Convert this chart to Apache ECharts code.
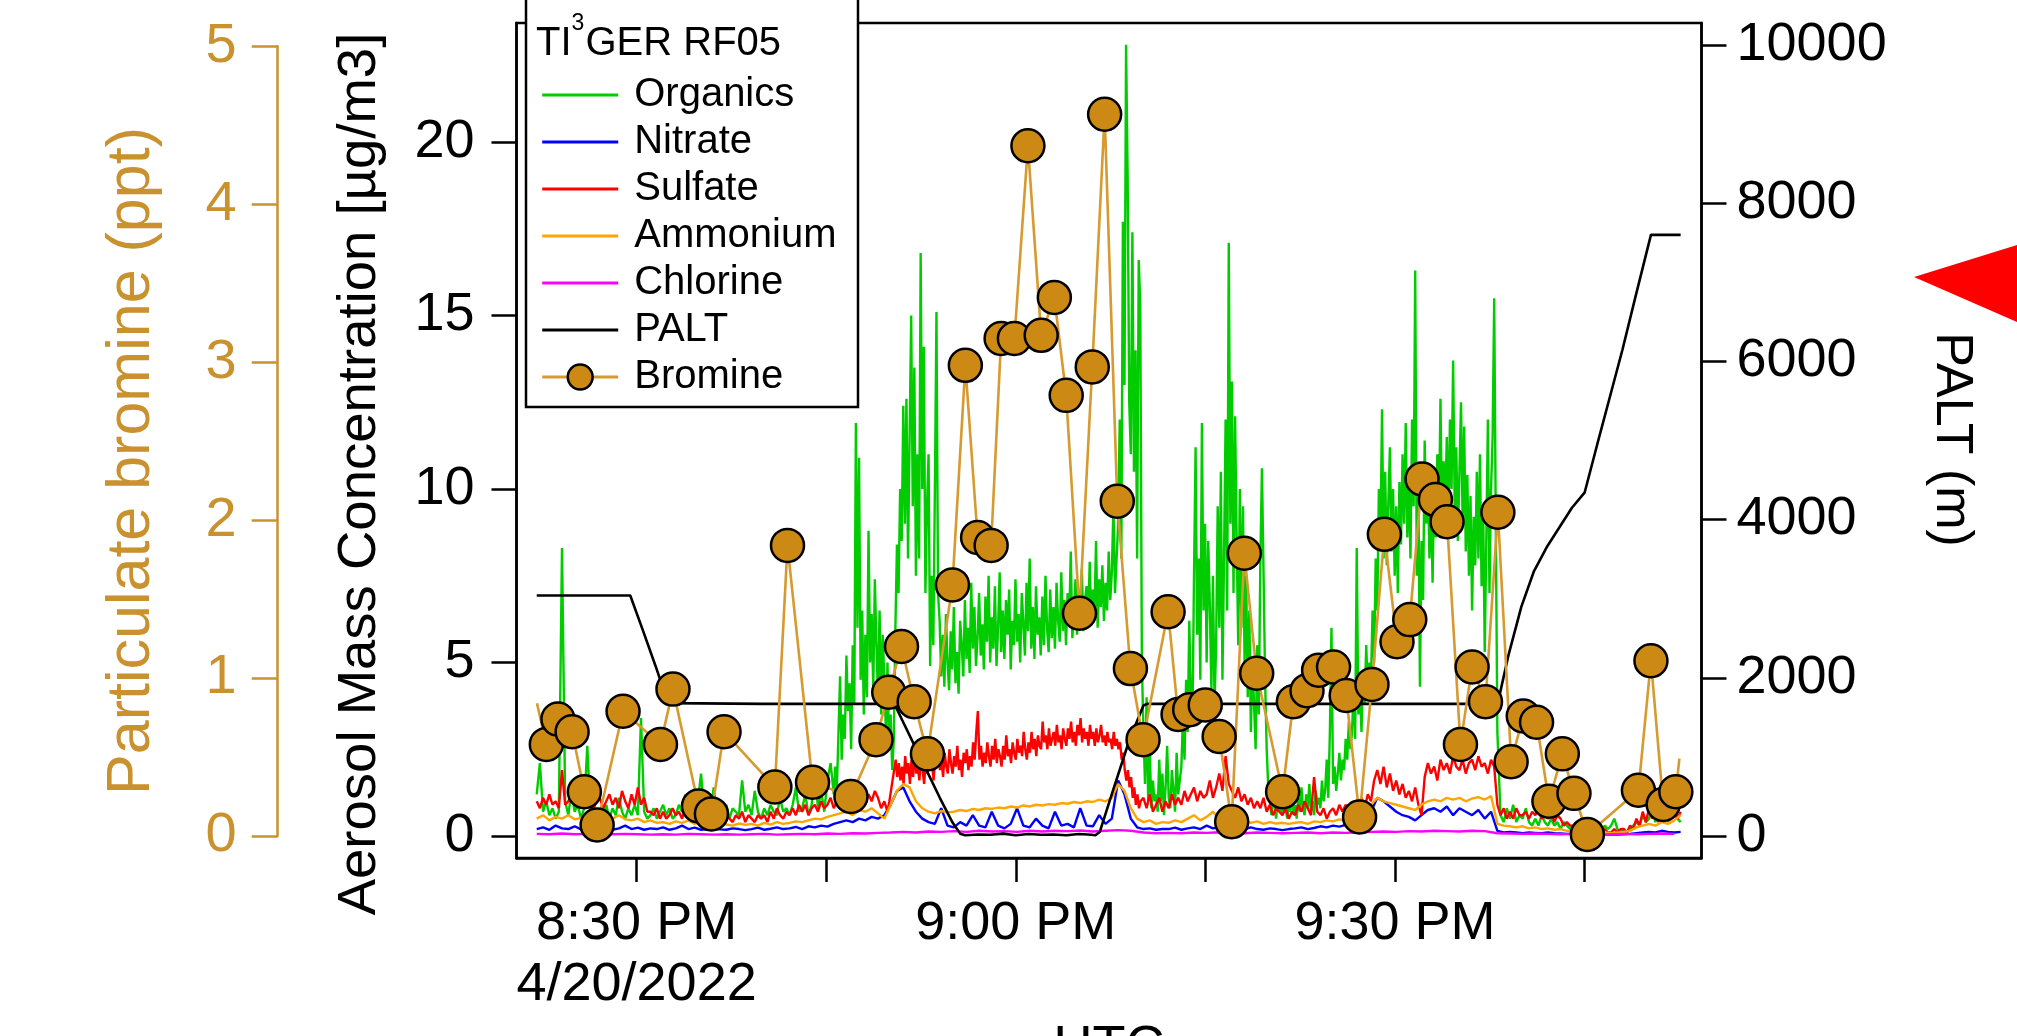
<!DOCTYPE html>
<html>
<head>
<meta charset="utf-8">
<script src="https://cdn.jsdelivr.net/npm/echarts@6/dist/echarts.min.js"></script>
<style>
html,body{margin:0;padding:0;background:#fff;}
#main{width:2017px;height:1036px;}
</style>
</head>
<body>
<div id="main"></div>
<script>
// ---------- DATA (time axis = minutes after 20:00 UTC, 4/20/2022) ----------
// Organics: three sampling segments [start time, step (min)]
const organicsA_t0 = 22.1,  organicsA_dt = 0.25;
const organicsA = [
1.2,2.1,0.7,1.0, 0.6,0.8,0.5,0.7, 8.3,1.0,0.6,1.3, 0.7,0.9,0.5,0.8, 2.6,0.7,0.9,0.5,
0.7,0.6,0.9,0.5, 0.8,0.6,1.1,0.7, 0.5,0.8,0.6,0.9, 0.6,3.4,0.7,0.5, 0.6,0.8,0.5,0.7,
0.9,0.6,0.8,0.5, 0.6,0.9,0.7,1.2, 0.6,0.8,0.5,1.0, 1.8,0.7,0.9,0.6, 1.4,0.7,0.8,0.6,
0.9,0.5,0.8,0.7, 0.6,1.6,0.7,0.9, 0.6,1.3,0.7,0.5, 0.8,0.6,0.9,0.7, 0.6,1.1,0.7,0.8,
0.6,0.9,1.4,0.7, 0.8,1.2,0.6,0.9, 1.9,0.8,1.3,0.7, 1.6,2.1
];
const organicsB_t0 = 45.6,  organicsB_dt = 0.125;
const organicsB = [
1.2,2.0,1.4,3.0,4.6,2.2,3.5,2.8, 5.2,3.6,4.4,2.5,5.5,3.8,11.9,6.0,
10.9,4.5,6.5,3.5,5.8,4.0,8.8,5.0, 6.4,4.2,7.4,5.5,4.0,6.5,3.5,5.8,
4.5,3.0,5.0,2.5,3.5,1.9,2.8,6.0,
8.4,7.0,10.0,8.5,12.4,9.0,12.6,8.0, 11.5,15.0,9.5,13.5,7.5,11.0,8.0,16.8,
10.0,14.1,7.0,9.5,11.0,4.9,7.5,5.5, 10.0,15.1,7.0,6.2,
4.6,5.8,4.3,6.4,5.0,4.2,5.9,4.8, 6.6,4.4,5.3,4.1,6.2,5.5,4.6,6.8,
5.1,6.0,4.7,7.3,5.4,6.6,4.9,5.7, 7.0,5.2,6.1,4.8,6.9,5.6,7.5,5.0,
6.3,5.4,7.2,4.9,6.0,7.6,5.3,6.5, 5.1,6.8,5.8,7.1,4.8,6.2,5.5,7.4,
5.6,6.4,5.0,7.0,6.1,5.2,7.3,5.9, 8.0,5.4,6.6,5.1,7.2,5.8,6.3,5.2,
6.9,5.5,7.5,6.0,5.3,7.1,5.7,6.6, 5.4,7.3,6.2,5.6,7.6,5.9,6.8,5.5,
7.0,6.1,8.2,5.7,6.5,7.4,5.8,6.9, 6.0,7.7,5.9,6.8,7.2,6.3,7.9,6.1,
7.1,6.4,8.5,6.0,7.4,6.6,7.8,6.2, 7.3,6.5,8.2,6.8,7.6,9.5,7.0,8.0,
9.0,12.0,8.0,17.7,13.0,22.8,19.0,12.5, 11.0,17.4,10.5,14.0,8.0,16.6,15.3,5.0,
3.0,1.5,4.0,1.0,2.5,0.8,1.6,1.0,
1.2,0.7,2.2,1.0,1.8,0.6,1.4,2.6, 1.1,0.8,1.9,1.3,0.7,2.4,1.2,1.6,
2.0,3.4,2.2,4.5,3.0,6.2,4.0,3.2, 7.5,11.2,5.8,8.0,4.5,11.9,6.5,9.0,
5.0,8.5,6.7,4.2,7.5,3.8,5.5,9.5, 6.0,10.5,4.5,8.0,12.0,6.5,17.1,9.0,
13.1,7.0,12.1,8.5,5.5,10.0,6.0,9.5, 5.0,7.5,4.0,6.5,3.0,5.0,3.8,2.5,
5.5,3.5,8.0,10.6,7.6,4.5,2.5,1.4,
1.0,0.6,1.3,0.8,0.5,1.1,0.7,0.9, 0.6,1.2,0.8,0.5,1.0,0.7,1.4,0.6,
0.9,0.5,1.1,0.7,1.4,0.8,0.6,1.2, 0.8,1.5,0.7,1.0,0.6,1.3,0.9,1.1,
0.8,1.6,1.0,1.3,2.2,1.1,3.0,6.0, 1.5,2.0,1.3,1.8,2.4,1.6,2.2,1.9,
2.8,2.2,3.3,2.5,3.0,4.2,2.8,8.3, 3.5,4.3,3.0,4.8,3.8,5.5,4.2,5.0,
4.4,6.5,5.0,8.0,6.5,10.0,8.5,12.3, 8.0,10.5,7.8,9.6,11.2,8.2,10.0,7.5,
9.5,7.0,10.2,8.4,11.0,9.0,11.9,8.6, 10.3,8.0,12.0,9.5,16.3,7.5,10.0,4.3,
8.5,6.8,11.4,9.0,10.5,8.0,9.8,7.3, 10.2,8.6,11.0,9.2,12.6,8.8,10.8,9.5,
11.5,9.0,12.0,10.0,13.7,9.4,11.2,8.5, 10.5,12.5,9.0,11.8,8.2,10.4,7.5,9.8,
6.5,9.2,7.8,10.5,8.0,11.0,7.2,9.5, 5.3,8.5,12.0,7.0,10.0,11.5,15.5,9.0,
3.0
];
const organicsC_t0 = 98.35, organicsC_dt = 0.25;
const organicsC = [
0.6,0.4,0.8, 0.5,0.9,0.4,0.6, 0.5,0.8,0.4,0.3, 0.5,0.3,0.6,0.4, 0.3,0.5,0.3,0.4,
0.2,0.4,0.3,0.2, 0.3,0.2,0.4,0.2, 0.2,0.3,0.2,0.1, 0.2,0.1,0.3,0.2, 0.3,0.5,0.2,0.1,
0.2,0.1,0.2,0.3, 0.4,0.3,0.6,0.4, 0.5,0.8,0.4,0.6, 0.5,0.7,0.4,0.9, 0.6,0.5,0.4
];

// Sulfate: three sampling segments
const sulfateA_t0 = 22.1, sulfateA_dt = 0.25;
const sulfateA = [
1.0,0.8,1.1,0.9, 1.2,0.9,1.0,0.8, 1.9,0.9,1.0,1.2, 0.9,1.1,0.8,1.0, 0.9,1.2,0.8,1.0,
1.1,0.8,1.0,1.2, 0.9,1.1,0.8,1.3, 1.0,0.8,1.2,0.9, 1.4,0.9,1.1,0.7, 0.7,0.6,0.8,0.5,
0.7,0.5,0.6,0.8, 0.6,0.7,0.5,0.8, 0.6,0.8,0.5,0.7, 0.9,0.6,0.7,0.5, 0.6,0.5,0.7,0.4,
0.6,0.5,0.4,0.6, 0.5,0.7,0.4,0.6, 0.5,0.4,0.6,0.5, 0.6,0.4,0.7,0.5, 0.8,0.6,0.5,0.7,
0.6,0.8,0.6,0.9, 0.7,0.9,0.6,0.8, 0.9,0.7,1.0,0.8, 0.9,1.1,0.8,1.0, 1.2,0.9,1.3,1.0,
1.1,1.4,1.0,1.2, 0.9,1.2,1.0,1.3, 1.1,0.8,1.0,0.7
];
const sulfateB_t0 = 50.0, sulfateB_dt = 0.125;
const sulfateB = [
1.0,1.3,1.6,1.9,2.2,1.7,2.1,1.6, 2.0,1.5,2.3,1.8,2.1,1.5,2.2,1.7,
2.4,1.8,2.0,1.6,2.3,1.9,1.5,2.2, 1.8,2.5,1.9,2.1,1.6,2.3,2.0,2.6,
1.9,2.2,1.7,2.4,2.0,1.8,2.5,2.1, 1.8,2.3,2.0,2.6,1.9,2.2,1.7,2.4,
2.1,2.5,1.9,2.3,2.0,2.7,2.2,3.0, 3.6,2.2,2.6,2.0,2.4,2.1,2.7,2.3,
2.0,2.6,2.2,2.8,2.1,2.5,2.3,2.0, 2.6,2.2,2.9,2.3,2.5,2.1,2.7,2.4,
2.2,2.8,2.4,2.6,2.3,3.0,2.5,2.2, 2.7,2.4,3.0,2.5,2.8,2.3,2.9,2.6,
2.5,3.3,2.7,2.9,2.5,3.1,2.6,2.8, 3.0,2.6,3.2,2.7,2.9,2.5,3.1,2.8,
2.6,3.1,2.8,3.3,2.7,3.0,2.6,3.2, 2.9,3.4,2.7,3.1,2.8,3.0,2.6,3.2,
2.8,3.0,2.6,3.1,2.7,2.9,3.2,2.7, 2.9,2.6,3.0,2.7,2.8,2.5,3.0,2.6,
2.8,2.5,2.7,2.2,2.4,1.9,1.6,1.9, 1.4,1.7,1.1,1.4,0.9,1.2,0.8,1.0
];
const sulfateC_t0 = 70.1, sulfateC_dt = 0.25;
const sulfateC = [
1.1,0.8,1.2,0.7, 0.9,1.1,0.7,1.0, 0.8,1.2,0.9,1.1, 0.9,1.3,1.0,1.2, 1.4,1.0,1.3,1.1,
1.2,1.6,1.1,1.4, 1.8,1.3,2.3,1.5, 1.3,1.1,1.4,1.0, 1.2,0.9,1.1,0.8, 1.0,0.8,1.1,0.7,
0.9,0.6,0.8,0.7, 0.6,0.8,0.5,0.7, 0.6,0.9,0.7,1.0, 0.8,0.6,1.7,0.7, 0.6,0.8,0.5,0.7,
0.8,0.6,0.9,0.7, 0.9,0.7,1.0,0.8, 0.9,1.1,0.8,1.2, 1.0,1.6,1.9,1.5, 2.0,1.4,1.8,1.3,
1.6,1.2,1.5,1.1, 1.3,1.0,1.4,0.9, 0.6,1.7,2.1,1.8, 2.0,1.6,2.2,1.9, 2.1,1.8,2.3,2.0,
1.9,2.2,1.8,2.1, 2.2,1.9,2.3,2.0, 2.1,1.8,2.2,2.0, 0.9,0.6,0.8,0.5, 0.7,0.5,0.8,0.6,
0.6,0.7,0.5,0.7, 0.6,0.8,0.5,0.6, 0.5,0.7,0.4,0.6, 0.5,0.3,0.4,0.3, 0.3,0.2,0.3,0.2,
0.2,0.3,0.2,0.1, 0.2,0.1,0.2,0.1, 0.1,0.2,0.1,0.2, 0.2,0.1,0.3,0.2, 0.5,0.3,0.7,0.4,
0.8,0.5,0.7,0.4, 0.6,0.9,0.5,0.7, 0.8,0.5,0.7
];

const nitrate_t0 = 22.1, nitrate_dt = 0.5;
const nitrate = [
0.2,0.25,0.18,0.3,0.22,0.2,0.28,0.19,0.24,0.21,
0.2,0.26,0.18,0.22,0.3,0.2,0.24,0.18,0.22,0.2,
0.25,0.18,0.22,0.3,0.2,0.24,0.18,0.2,0.22,0.19,
0.18,0.22,0.2,0.17,0.2,0.24,0.18,0.21,0.25,0.2,
0.22,0.26,0.2,0.28,0.25,0.3,0.27,0.35,0.4,0.45,
0.4,0.5,0.45,0.55,0.5,0.6,0.9,1.3,1.4,1.0,
0.7,0.5,0.4,0.35,0.8,0.3,0.25,0.4,0.3,0.6,
0.3,0.25,0.7,0.3,0.22,0.35,0.8,0.3,0.25,0.5,
0.3,0.22,0.7,0.3,0.35,0.25,0.8,0.3,0.28,0.6,
0.35,0.5,1.6,1.2,0.5,0.25,0.2,0.22,0.18,0.2,
0.2,0.24,0.18,0.22,0.25,0.2,0.3,0.22,0.26,0.2,
0.22,0.18,0.2,0.25,0.2,0.18,0.22,0.2,0.17,0.2,
0.22,0.25,0.2,0.23,0.28,0.25,0.3,0.27,0.32,0.3,
0.35,0.4,0.7,1.1,1.0,0.85,0.7,0.6,0.55,0.45,
0.6,0.75,0.8,0.7,0.85,0.6,0.8,0.7,0.6,0.75,
0.5,0.7,0.15,0.1,0.12,0.1,0.08,0.1,0.09,0.08,
0.1,0.08,0.07,0.06,0.05,0.06,0.05,0.06,0.05,0.04,
0.05,0.04,0.05,0.06,0.08,0.1,0.12,0.1,0.15,0.12,
0.1,0.12
];

const ammonium_t0 = 22.1, ammonium_dt = 0.5;
const ammonium = [
0.5,0.6,0.45,0.55,0.5,0.6,0.48,0.52,0.45,0.5,
0.55,0.45,0.5,0.6,0.48,0.45,0.5,0.4,0.45,0.38,
0.4,0.35,0.42,0.38,0.45,0.35,0.4,0.32,0.38,0.35,
0.33,0.3,0.36,0.32,0.35,0.3,0.38,0.33,0.4,0.35,
0.38,0.42,0.4,0.45,0.5,0.48,0.55,0.6,0.65,0.7,
0.6,0.75,0.7,0.8,0.65,0.5,0.9,1.3,1.5,1.4,
1.0,0.8,0.7,0.65,0.72,0.68,0.7,0.75,0.72,0.78,
0.75,0.8,0.78,0.82,0.8,0.85,0.82,0.88,0.85,0.9,
0.88,0.92,0.9,0.95,0.93,0.98,0.95,1.0,0.98,1.05,
1.0,1.1,1.5,1.3,0.8,0.5,0.4,0.45,0.35,0.4,
0.38,0.45,0.4,0.5,0.6,0.45,0.55,0.7,0.5,0.45,
0.5,0.4,0.45,0.38,0.42,0.35,0.4,0.36,0.38,0.35,
0.38,0.4,0.35,0.42,0.4,0.45,0.42,0.48,0.45,0.5,
0.5,0.6,0.9,1.1,1.0,0.95,0.9,0.85,0.8,0.75,
0.9,1.0,1.05,1.0,1.1,1.05,1.1,1.0,1.08,1.12,
1.05,1.15,0.35,0.3,0.28,0.25,0.28,0.22,0.25,0.2,
0.22,0.18,0.2,0.15,0.12,0.1,0.12,0.1,0.08,0.1,
0.08,0.1,0.12,0.15,0.25,0.3,0.35,0.3,0.4,0.35,
0.45,0.6
];

const chlorine_t0 = 22.1, chlorine_dt = 1.0;
const chlorine = [
0.06,0.05,0.07,0.05,0.06,0.04,0.05,0.06,0.05,0.04,
0.05,0.04,0.06,0.05,0.04,0.05,0.04,0.05,0.06,0.04,
0.05,0.06,0.05,0.07,0.06,0.08,0.07,0.09,0.1,0.12,
0.1,0.13,0.12,0.14,0.12,0.15,0.13,0.14,0.12,0.15,
0.13,0.15,0.14,0.16,0.13,0.15,0.17,0.15,0.1,0.08,
0.09,0.08,0.1,0.09,0.11,0.09,0.08,0.1,0.09,0.08,
0.09,0.1,0.08,0.1,0.09,0.11,0.12,0.13,0.12,0.14,
0.13,0.15,0.14,0.13,0.15,0.14,0.08,0.07,0.06,0.07,
0.06,0.05,0.06,0.05,0.04,0.05,0.06,0.05,0.06,0.07,
0.06
];

const paltTime = [22.1,29.5,30.5,31.5,32.2,32.6,40,45,50.4,51,52,53,54,55,55.6,56,57,58,59,60,61,62,63,64,65,66,66.3,66.64,67.7,69.0,70.1,70.4,80,90,97.9,98.3,99,100,101,102,103,104,105,106,107,108,109,110.25,112.6];
const paltAlt  = [3040,3040,2600,2150,1820,1680,1670,1670,1670,1470,1140,810,480,170,30,10,20,15,30,10,25,15,20,10,25,15,10,50,580,1220,1650,1670,1670,1670,1670,1800,2300,2900,3350,3650,3900,4150,4340,4950,5550,6150,6800,7600,7600];

const bromTime = [22.12,22.86,23.78,24.90,25.87,26.88,28.93,31.89,32.88,34.90,35.92,36.92,40.94,41.94,43.92,46.96,48.94,49.95,50.96,51.96,53.01,54.99,56.01,56.98,58.05,58.84,59.89,60.96,62.01,63.05,63.99,65.04,66.05,67.03,68.03,69.07,70.07,72.05,72.84,73.76,74.99,76.09,77.08,78.08,79.06,81.11,81.96,83.04,83.96,85.14,86.14,87.20,88.18,89.16,90.16,91.17,92.14,93.20,94.12,95.18,96.10,97.16,98.14,99.19,100.15,101.20,102.18,103.24,104.16,105.22,109.26,110.25,111.22,112.22,112.5];
const bromPpt  = [0.84,0.58,0.74,0.66,0.28,0.07,0.79,0.58,0.93,0.19,0.14,0.66,0.31,1.84,0.34,0.25,0.61,0.91,1.2,0.85,0.52,1.59,2.98,1.89,1.84,3.15,3.15,4.37,3.17,3.41,2.79,1.41,2.97,4.57,2.12,1.06,0.61,1.42,0.77,0.8,0.83,0.63,0.09,1.79,1.03,0.28,0.85,0.92,1.05,1.07,0.89,0.12,0.96,1.91,1.23,1.37,2.26,2.13,1.99,0.58,1.07,0.85,2.05,0.47,0.76,0.72,0.22,0.52,0.27,0.01,0.29,1.11,0.2,0.28,0.49];
const bromNoMarker = [0, bromTime.length - 1];   // line ends drawn without a marker

const xTickValues = [30, 45, 60, 75, 90, 105];
const xLabelValues = [30, 60, 90];
const xLabelTexts = ['8:30 PM\n4/20/2022', '9:00 PM', '9:30 PM'];
const aerosolTicks = [0, 5, 10, 15, 20];
const paltTicks = [0, 2000, 4000, 6000, 8000, 10000];
const bromTicks = [0, 1, 2, 3, 4, 5];
const legendNames = ['Organics', 'Nitrate', 'Sulfate', 'Ammonium', 'Chlorine', 'PALT', 'Bromine'];

// ---------- BUILD ----------
const FONT = 'Liberation Sans';
const TAN = '#C9922F';
const BR_LINE = '#D69A30';
const BR_FILL = '#CC8A14';

function seg(vals, t0, dt) { return vals.map((v, i) => [+(t0 + i * dt).toFixed(3), v]); }

const organicsData = seg(organicsA, organicsA_t0, organicsA_dt)
  .concat(seg(organicsB, organicsB_t0, organicsB_dt))
  .concat(seg(organicsC, organicsC_t0, organicsC_dt));
const sulfateData = seg(sulfateA, sulfateA_t0, sulfateA_dt)
  .concat(seg(sulfateB, sulfateB_t0, sulfateB_dt))
  .concat(seg(sulfateC, sulfateC_t0, sulfateC_dt));

const chart = echarts.init(document.getElementById('main'), null, {renderer: 'canvas', width: 2017, height: 1036});

const lineS = (name, data, color, w) => ({
  name, type: 'line', xAxisIndex: 0, yAxisIndex: 0, data,
  symbol: 'none', showSymbol: false, clip: true, silent: true, animation: false,
  lineStyle: {color, width: w}, itemStyle: {color}
});

const option = {
  animation: false,
  backgroundColor: '#fff',
  textStyle: {fontFamily: FONT},
  grid: [
    {left: 516.5, top: 23, width: 1185, height: 835, show: true, borderColor: '#000', borderWidth: 2.5, backgroundColor: 'transparent', containLabel: false, outerBoundsMode: 'none'},
    {left: 516.5, top: 46.3, width: 1185, height: 789.7, show: false, containLabel: false, outerBoundsMode: 'none'}
  ],
  xAxis: [
    {type: 'value', gridIndex: 0, min: 20.5, max: 114.25, position: 'bottom',
     axisLine: {show: true, onZero: false, lineStyle: {color: '#000', width: 2.5}},
     axisTick: {show: true, inside: false, length: 24, customValues: xTickValues, lineStyle: {color: '#000', width: 2.5}},
     axisLabel: {show: true, customValues: xLabelValues, margin: 36, fontSize: 54, lineHeight: 61, color: '#000', fontFamily: FONT,
       formatter: v => { const k = xLabelValues.indexOf(Math.round(v)); return k >= 0 ? xLabelTexts[k] : ''; }},
     splitLine: {show: false},
     name: 'UTC', nameLocation: 'middle', nameGap: 163, nameTextStyle: {fontSize: 54, color: '#000', fontFamily: FONT}},
    {type: 'value', gridIndex: 1, min: 20.5, max: 114.25, show: false}
  ],
  yAxis: [
    {type: 'value', gridIndex: 0, position: 'left', min: -0.634, max: 23.43,
     axisLine: {show: true, onZero: false, lineStyle: {color: '#000', width: 2.5}},
     axisTick: {show: true, inside: false, length: 25, customValues: aerosolTicks, lineStyle: {color: '#000', width: 2.5}},
     axisLabel: {show: true, customValues: aerosolTicks, margin: 42, fontSize: 54, color: '#000', fontFamily: FONT, formatter: v => String(v)},
     splitLine: {show: false}},
    {type: 'value', gridIndex: 0, position: 'right', min: -278, max: 10278,
     axisLine: {show: true, onZero: false, lineStyle: {color: '#000', width: 2.5}},
     axisTick: {show: true, inside: false, length: 25, customValues: paltTicks, lineStyle: {color: '#000', width: 2.5}},
     axisLabel: {show: true, customValues: paltTicks, margin: 35, fontSize: 54, color: '#000', fontFamily: FONT, formatter: v => String(v)},
     splitLine: {show: false}},
    {type: 'value', gridIndex: 1, position: 'left', offset: 238.8, min: 0, max: 5,
     axisLine: {show: true, onZero: false, lineStyle: {color: TAN, width: 2.5}},
     axisTick: {show: true, inside: false, length: 26, customValues: bromTicks, lineStyle: {color: TAN, width: 2.5}},
     axisLabel: {show: true, customValues: bromTicks, margin: 41, fontSize: 56, color: TAN, fontFamily: FONT, formatter: v => String(v)},
     splitLine: {show: false}}
  ],
  legend: {
    show: true, orient: 'vertical', left: 540.7, top: 75, z: 60, padding: 0,
    itemWidth: 76, itemHeight: 31, itemGap: 7, selectedMode: false,
    textStyle: {fontSize: 40, lineHeight: 40, color: '#000', fontFamily: FONT, padding: [0, 0, 0, 11]},
    data: legendNames.map(n => n === 'Bromine'
      ? {name: n, lineStyle: {width: 3}, itemStyle: {color: BR_FILL, borderColor: '#000', borderWidth: 2.5}}
      : {name: n, lineStyle: {width: 3}, itemStyle: {opacity: 0}})
  },
  series: [
    lineS('Organics', organicsData, '#00CC00', 2.4),
    lineS('Nitrate', seg(nitrate, nitrate_t0, nitrate_dt), '#0000FF', 2.4),
    lineS('Sulfate', sulfateData, '#FF0000', 2.4),
    lineS('Ammonium', seg(ammonium, ammonium_t0, ammonium_dt), '#FFA500', 2.4),
    lineS('Chlorine', seg(chlorine, chlorine_t0, chlorine_dt), '#FF00FF', 2.4),
    {name: 'PALT', type: 'line', xAxisIndex: 0, yAxisIndex: 1, symbol: 'none', showSymbol: false, silent: true, animation: false,
     data: paltTime.map((t, i) => [t, paltAlt[i]]), lineStyle: {color: '#000', width: 2.6}, itemStyle: {color: '#000'}},
    {name: 'Bromine', type: 'line', xAxisIndex: 1, yAxisIndex: 2, symbol: 'circle', symbolSize: 33, showSymbol: true, clip: false, silent: true, animation: false,
     data: bromTime.map((t, i) => bromNoMarker.indexOf(i) >= 0 ? {value: [t, bromPpt[i]], symbol: 'none'} : [t, bromPpt[i]]),
     lineStyle: {color: BR_LINE, width: 2.6},
     itemStyle: {color: BR_FILL, borderColor: '#000', borderWidth: 2.5}}
  ],
  graphic: {elements: [
    {type: 'rect', z: 50, shape: {x: 526, y: -10, width: 332, height: 417}, style: {fill: '#fff', stroke: '#000', lineWidth: 2.5}},
    {type: 'text', z: 60, x: 536, y: 44.4, style: {text: 'TI', font: '40px "Liberation Sans"', fill: '#000', align: 'left', verticalAlign: 'middle'}},
    {type: 'text', z: 60, x: 571.5, y: 23.4, style: {text: '3', font: '23px "Liberation Sans"', fill: '#000', align: 'left', verticalAlign: 'middle'}},
    {type: 'text', z: 60, x: 585.5, y: 44.4, style: {text: 'GER RF05', font: '40px "Liberation Sans"', fill: '#000', align: 'left', verticalAlign: 'middle'}},
    {type: 'text', z: 60, x: 360, y: 474, rotation: Math.PI / 2, style: {text: 'Aerosol Mass Concentration [µg/m3]', font: '54.5px "Liberation Sans"', fill: '#000', align: 'center', verticalAlign: 'middle'}},
    {type: 'text', z: 60, x: 132.4, y: 461, rotation: Math.PI / 2, style: {text: 'Particulate bromine (ppt)', font: '61px "Liberation Sans"', fill: TAN, align: 'center', verticalAlign: 'middle'}},
    {type: 'text', z: 60, x: 1951.7, y: 439.5, rotation: -Math.PI / 2, style: {text: 'PALT (m)', font: '52px "Liberation Sans"', fill: '#000', align: 'center', verticalAlign: 'middle'}},
    {type: 'polygon', z: 60, shape: {points: [[1914, 277], [2017, 245], [2017, 322]]}, style: {fill: '#FF0000'}}
  ]}
};
chart.setOption(option);
</script>
</body>
</html>
